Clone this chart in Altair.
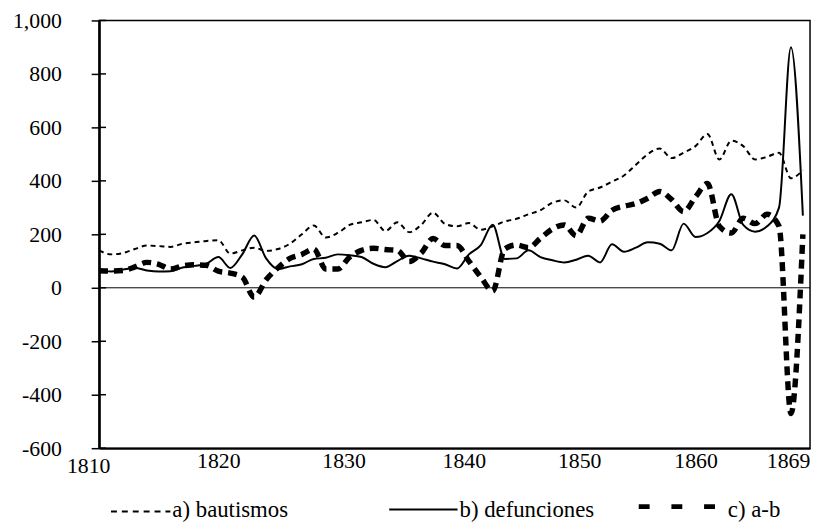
import altair as alt
import pandas as pd

# ---- data ----
years = list(range(1810, 1870))

bautismos = [
    140, 125, 130, 145, 158, 156, 153, 165, 170, 175,   # 1810-1819
    178, 128, 140, 150, 138, 145, 165, 200, 233, 188,   # 1820-1829
    205, 235, 245, 254, 212, 245, 208, 235, 281, 239,   # 1830-1839
    230, 242, 217, 230, 248, 258, 275, 290, 318, 327,   # 1840-1849
    300, 360, 375, 397, 420, 460, 500, 521, 485, 505,   # 1850-1859
    530, 575, 480, 550, 530, 480, 490, 505, 410, 440,   # 1860-1869
]

defunciones = [
    67, 61, 68, 74, 65, 61, 62, 76, 82, 90,             # 1810-1819
    115, 74, 125, 196, 110, 70, 80, 88, 108, 112,       # 1820-1829
    125, 122, 115, 90, 77, 100, 120, 110, 98, 88,       # 1830-1839
    72, 125, 160, 236, 108, 110, 140, 115, 103, 95,     # 1840-1849
    105, 120, 95, 163, 135, 150, 170, 165, 140, 240,    # 1850-1859
    190, 205, 250, 350, 235, 210, 230, 300, 900, 270,   # 1860-1869
]

diferencia = [
    64, 63, 65, 78, 95, 88, 70, 82, 86, 84,             # 1810-1819
    62, 55, 40, -35, 30, 75, 110, 125, 145, 70,         # 1820-1829
    70, 115, 140, 148, 143, 140, 98, 130, 184, 158,     # 1830-1839
    158, 100, 40, -12, 145, 160, 150, 185, 220, 235,    # 1840-1849
    195, 260, 250, 290, 305, 315, 335, 360, 330, 285,   # 1850-1859
    340, 390, 230, 205, 260, 240, 275, 230, -470, 200,  # 1860-1869
]

y_ticks = [-600, -400, -200, 0, 200, 400, 600, 800, 1000]
x_ticks = [1810, 1820, 1830, 1840, 1850, 1860, 1869]
legend_labels = ["a) bautismos", "b) defunciones", "c) a-b"]

df = pd.DataFrame({"year": years, "a": bautismos, "b": defunciones, "c": diferencia})
ticks_df = pd.DataFrame({"v": y_ticks})
zero_df = pd.DataFrame({"v": [0]})

FONT = "Liberation Serif, Times New Roman, serif"

xscale = alt.Scale(domain=[1810, 1869.6], nice=False, zero=False)
yscale = alt.Scale(domain=[-600, 1000], nice=False)

x_axis = alt.Axis(
    values=x_ticks, title=None, grid=False, ticks=False, format="d",
    domain=True, domainColor="black", domainWidth=2,
    labelFont=FONT, labelFontSize=22, labelColor="black",
    labelPadding={"condition": {"test": "datum.value == 1810", "value": 8}, "value": 2},
    labelAlign={"condition": {"test": "datum.value == 1869", "value": "right"}, "value": "center"},
    labelOffset={
        "condition": [
            {"test": "datum.value == 1810", "value": -11},
            {"test": "datum.value == 1830", "value": 6},
            {"test": "datum.value == 1840", "value": 7},
            {"test": "datum.value == 1850", "value": 3},
            {"test": "datum.value == 1869", "value": 7},
        ],
        "value": 0,
    },
    labelFlush=False, labelOverlap=False,
)
y_axis = alt.Axis(
    values=y_ticks, title=None, grid=False, format=",d",
    labelExpr="replace(format(datum.value, ',d'), '\u2212', '-')",
    tickSize=8, tickColor="black", tickWidth=1.5,
    domain=True, domainColor="black", domainWidth=2.5,
    labelFont=FONT, labelFontSize=22, labelColor="black", labelPadding=30,
    labelFlush=False, labelOverlap=False,
)

X = alt.X("year:Q", scale=xscale, axis=x_axis)

def Y(field):
    return alt.Y(field, type="quantitative", scale=yscale, axis=y_axis)

base = alt.Chart(df)

zero_line = alt.Chart(zero_df).mark_rule(color="black", strokeWidth=1).encode(
    y=Y("v"), x=alt.value(0), x2=alt.value(718),
)

inner_ticks = alt.Chart(ticks_df).mark_rule(color="black", strokeWidth=1.5).encode(
    y=Y("v"), x=alt.value(0), x2=alt.value(7),
)

line_a = base.mark_line(color="black", strokeWidth=2, strokeDash=[5, 4], interpolate="monotone").encode(
    x=X, y=Y("a"),
)
line_b = base.mark_line(color="black", strokeWidth=2, interpolate="monotone").encode(
    x=X, y=Y("b"),
)
line_c = base.mark_line(color="black", strokeWidth=5.5, strokeDash=[9, 6], interpolate="monotone").encode(
    x=X, y=Y("c"),
)

# ---- hand-made legend below the plot ----
one = pd.DataFrame({"t": [0]})
leg_a_sym = alt.Chart(one).mark_rule(color="black", strokeWidth=2, strokeDash=[6, 5]).encode(
    x=alt.value(12), x2=alt.value(72), y=alt.value(496))
leg_b_sym = alt.Chart(one).mark_rule(color="black", strokeWidth=2).encode(
    x=alt.value(293), x2=alt.value(362), y=alt.value(494))
leg_c_sym = alt.Chart(one).mark_rule(color="black", strokeWidth=5, strokeDash=[11, 22]).encode(
    x=alt.value(545), x2=alt.value(623), y=alt.value(491))

def leg_text(label, xpos):
    return alt.Chart(pd.DataFrame({"t": [label]})).mark_text(
        font=FONT, fontSize=23, color="black", align="left", baseline="alphabetic"
    ).encode(text="t:N", x=alt.value(xpos), y=alt.value(501))

leg_a_txt = leg_text(legend_labels[0], 74)
leg_b_txt = leg_text(legend_labels[1], 364)
leg_c_txt = leg_text(legend_labels[2], 635)

chart = alt.layer(
    zero_line, inner_ticks, line_a, line_b, line_c,
    leg_a_sym, leg_b_sym, leg_c_sym, leg_a_txt, leg_b_txt, leg_c_txt,
).properties(
    width=718, height=432,
    padding={"left": 92, "top": 10, "right": 3, "bottom": 75},
    autosize=alt.AutoSizeParams(type="none"),
    background="white",
).configure_view(stroke="black", strokeWidth=1.5).configure_axis(
    labelFont=FONT, labelFontSize=22, labelColor="black", grid=False
)

chart.save("out.html", embed_options={"renderer": "svg", "actions": False})
